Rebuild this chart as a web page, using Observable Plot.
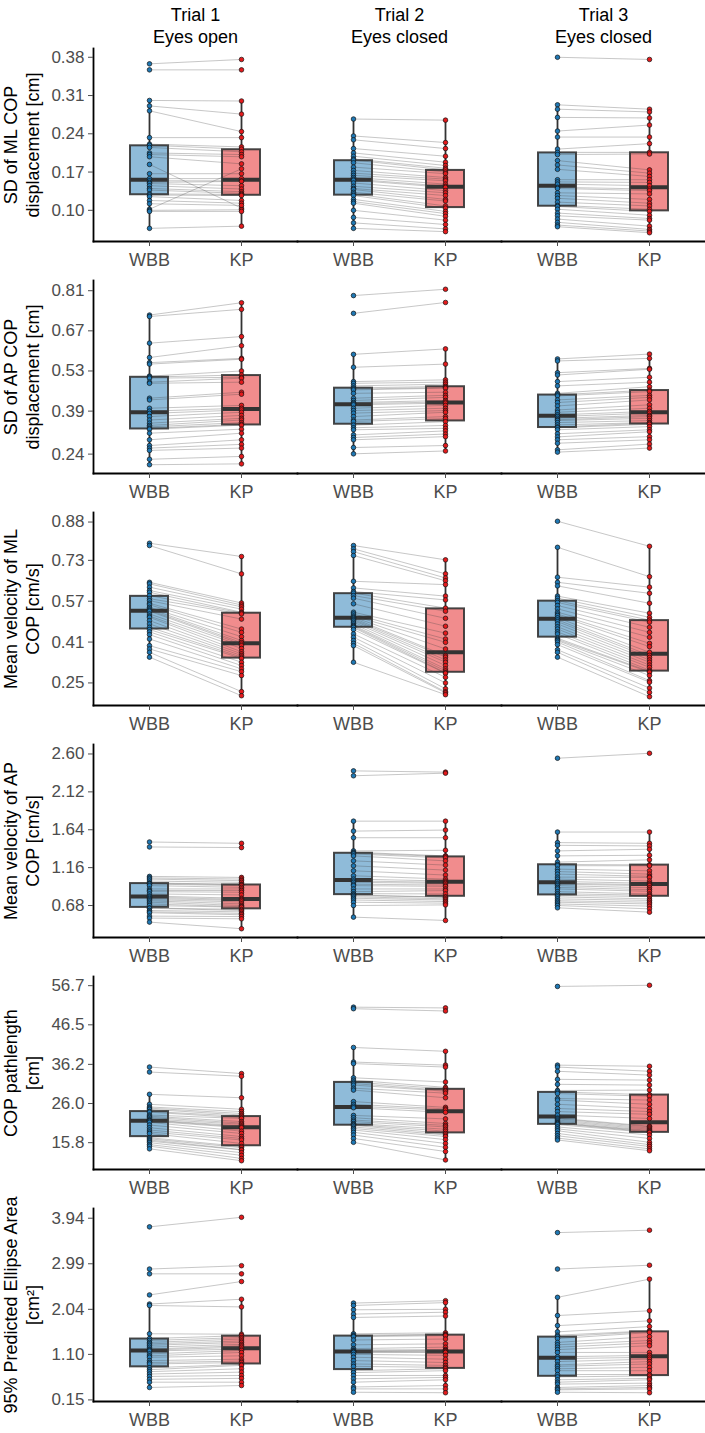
<!DOCTYPE html>
<html>
<head>
<meta charset="utf-8">
<script src="https://cdn.jsdelivr.net/npm/d3@7"></script>
<script src="https://cdn.jsdelivr.net/npm/@observablehq/plot@0.6"></script>
<style>
  body { margin: 0; background: #fff; }
  #chart { width: 705px; }
  #chart svg { display: block; }
</style>
</head>
<body>
<div id="chart"></div>
<script>
// Balance boards compared per trial: Wii Balance Board (WBB) vs. Kistler plate (KP).
const devices = ["WBB", "KP"];
const trials = ["Trial 1", "Trial 2", "Trial 3"];
const conditions = ["Eyes open", "Eyes closed", "Eyes closed"];
const deviceColors = ["#1F78B4", "#E31A1C"];

// Each list holds one value per participant; WBB and KP lists share the participant order.
// SD of ML COP displacement [cm]
const mlSdWBB = [
  [0.368,0.357,0.301,0.291,0.282,0.233,0.221,0.219,0.215,0.205,0.202,0.198,0.184,0.167,0.158,0.154,0.151,0.149,0.145,0.140,0.137,0.130,0.128,0.125,0.118,0.112,0.102,0.100,0.098,0.067],
  [0.267,0.236,0.229,0.213,0.205,0.199,0.194,0.192,0.187,0.179,0.173,0.168,0.164,0.160,0.157,0.155,0.150,0.144,0.140,0.138,0.133,0.130,0.127,0.120,0.116,0.113,0.100,0.087,0.077,0.067],
  [0.380,0.293,0.285,0.270,0.245,0.234,0.212,0.206,0.202,0.191,0.183,0.175,0.156,0.152,0.148,0.142,0.140,0.132,0.127,0.122,0.115,0.109,0.107,0.102,0.095,0.090,0.084,0.078,0.073,0.070]
];
const mlSdKP = [
  [0.376,0.357,0.300,0.276,0.244,0.233,0.216,0.212,0.207,0.202,0.198,0.185,0.104,0.167,0.158,0.154,0.153,0.145,0.139,0.134,0.131,0.129,0.127,0.118,0.113,0.109,0.176,0.101,0.098,0.071],
  [0.265,0.224,0.213,0.199,0.188,0.182,0.177,0.174,0.170,0.167,0.160,0.157,0.154,0.148,0.144,0.142,0.136,0.132,0.127,0.120,0.117,0.108,0.104,0.098,0.094,0.089,0.082,0.074,0.066,0.061],
  [0.376,0.285,0.280,0.269,0.256,0.234,0.222,0.206,0.203,0.174,0.168,0.162,0.156,0.151,0.145,0.139,0.136,0.130,0.120,0.113,0.108,0.102,0.098,0.091,0.085,0.082,0.071,0.065,0.062,0.059]
];
const mlSdTicks = [0.10, 0.17, 0.24, 0.31, 0.38];

// SD of AP COP displacement [cm]
const apSdWBB = [
  [0.725,0.720,0.627,0.577,0.559,0.554,0.512,0.509,0.505,0.491,0.487,0.435,0.429,0.400,0.390,0.382,0.371,0.359,0.348,0.340,0.335,0.330,0.327,0.313,0.290,0.270,0.261,0.253,0.222,0.203],
  [0.793,0.731,0.588,0.543,0.493,0.487,0.478,0.471,0.467,0.464,0.452,0.435,0.427,0.420,0.416,0.412,0.400,0.392,0.383,0.371,0.359,0.354,0.341,0.332,0.325,0.307,0.298,0.290,0.263,0.241],
  [0.572,0.565,0.524,0.516,0.493,0.478,0.452,0.447,0.443,0.429,0.420,0.408,0.394,0.386,0.377,0.371,0.365,0.360,0.357,0.350,0.342,0.335,0.332,0.325,0.311,0.300,0.290,0.278,0.255,0.247]
];
const apSdKP = [
  [0.768,0.745,0.650,0.618,0.574,0.571,0.530,0.516,0.508,0.505,0.491,0.456,0.449,0.410,0.400,0.394,0.386,0.375,0.365,0.359,0.350,0.344,0.341,0.327,0.313,0.290,0.274,0.261,0.232,0.206],
  [0.815,0.769,0.607,0.554,0.499,0.491,0.484,0.476,0.472,0.470,0.456,0.445,0.438,0.427,0.422,0.418,0.410,0.400,0.392,0.386,0.371,0.364,0.353,0.340,0.330,0.321,0.310,0.301,0.270,0.251],
  [0.589,0.574,0.539,0.536,0.508,0.491,0.475,0.463,0.458,0.445,0.438,0.429,0.412,0.400,0.389,0.383,0.375,0.371,0.365,0.357,0.350,0.348,0.344,0.336,0.325,0.318,0.301,0.290,0.275,0.261]
];
const apSdTicks = [0.24, 0.39, 0.53, 0.67, 0.81];

// Mean velocity of ML COP [cm/s]
const mlVelWBB = [
  [0.797,0.788,0.644,0.638,0.625,0.612,0.605,0.592,0.580,0.572,0.562,0.556,0.546,0.540,0.535,0.531,0.520,0.512,0.507,0.494,0.481,0.468,0.459,0.450,0.439,0.422,0.396,0.383,0.370,0.351],
  [0.788,0.775,0.764,0.749,0.648,0.622,0.608,0.602,0.592,0.582,0.560,0.527,0.520,0.512,0.507,0.503,0.498,0.494,0.488,0.481,0.475,0.471,0.467,0.459,0.442,0.429,0.416,0.405,0.396,0.331],
  [0.883,0.781,0.664,0.644,0.630,0.590,0.582,0.572,0.565,0.553,0.540,0.527,0.520,0.514,0.505,0.497,0.490,0.481,0.470,0.461,0.450,0.442,0.425,0.420,0.416,0.410,0.400,0.380,0.370,0.351]
];
const mlVelKP = [
  [0.745,0.677,0.563,0.555,0.548,0.539,0.527,0.524,0.520,0.500,0.461,0.448,0.431,0.416,0.408,0.402,0.396,0.385,0.372,0.364,0.357,0.351,0.346,0.331,0.318,0.305,0.294,0.279,0.216,0.200],
  [0.732,0.677,0.661,0.650,0.635,0.590,0.575,0.543,0.531,0.503,0.472,0.445,0.422,0.409,0.383,0.357,0.351,0.340,0.331,0.318,0.305,0.297,0.290,0.288,0.272,0.250,0.227,0.215,0.211,0.204],
  [0.785,0.666,0.625,0.601,0.562,0.523,0.507,0.496,0.488,0.468,0.448,0.429,0.405,0.392,0.370,0.358,0.350,0.340,0.331,0.320,0.311,0.300,0.295,0.292,0.279,0.259,0.253,0.230,0.213,0.196]
];
const mlVelTicks = [0.25, 0.41, 0.57, 0.73, 0.88];

// Mean velocity of AP COP [cm/s]
const apVelWBB = [
  [1.485,1.422,1.049,1.030,1.015,0.990,0.965,0.960,0.952,0.932,0.890,0.870,0.856,0.827,0.800,0.786,0.770,0.755,0.740,0.722,0.700,0.680,0.648,0.646,0.617,0.600,0.588,0.546,0.521,0.470],
  [2.386,2.324,1.749,1.623,1.539,1.372,1.355,1.345,1.333,1.309,1.246,1.183,1.120,1.057,1.015,0.991,0.974,0.950,0.932,0.890,0.856,0.830,0.814,0.806,0.790,0.772,0.750,0.722,0.680,0.533],
  [2.546,1.611,1.477,1.443,1.372,1.309,1.230,1.200,1.185,1.141,1.110,1.078,1.040,1.015,0.985,0.963,0.950,0.932,0.910,0.890,0.856,0.830,0.809,0.790,0.764,0.740,0.722,0.700,0.680,0.651]
];
const apVelKP = [
  [1.468,1.414,1.036,1.015,0.995,0.974,0.950,0.943,0.932,0.910,0.890,0.870,0.848,0.814,0.772,0.756,0.743,0.725,0.701,0.680,0.665,0.659,0.631,0.617,0.600,0.580,0.563,0.540,0.512,0.386],
  [2.370,2.357,1.749,1.636,1.539,1.380,1.309,1.300,1.284,1.246,1.192,1.129,1.066,1.015,0.990,0.974,0.961,0.940,0.923,0.890,0.869,0.827,0.787,0.785,0.765,0.750,0.730,0.710,0.688,0.491],
  [2.609,1.611,1.468,1.435,1.393,1.317,1.259,1.195,1.183,1.120,1.078,1.050,1.036,0.990,0.962,0.944,0.932,0.905,0.881,0.860,0.827,0.810,0.793,0.764,0.745,0.722,0.700,0.672,0.638,0.596]
];
const apVelTicks = [0.68, 1.16, 1.64, 2.12, 2.60];

// COP pathlength [cm]
const pathWBB = [
  [35.5,34.2,28.4,25.8,25.1,24.8,24.5,23.95,23.75,23.0,22.7,22.4,22.0,21.7,21.6,21.4,21.1,20.4,19.7,19.1,18.6,18.2,17.1,16.8,16.5,16.2,15.8,15.3,14.9,14.2],
  [51.1,50.7,40.6,36.8,36.4,32.7,32.1,31.6,31.2,30.8,30.0,29.5,26.5,25.8,25.3,24.9,22.9,22.3,21.7,21.3,20.8,20.5,20.3,19.9,19.5,19.1,18.5,17.8,16.9,15.9],
  [56.5,36.0,35.5,34.4,32.3,31.0,29.4,29.0,28.6,27.3,26.9,25.8,24.7,23.9,23.0,22.2,22.0,21.7,21.4,21.1,20.9,20.8,20.5,19.9,19.4,18.9,18.2,17.6,17.0,16.5]
];
const pathKP = [
  [33.8,33.1,27.5,24.5,23.9,23.4,23.0,22.7,22.3,22.1,21.3,20.9,20.6,20.2,19.9,19.7,18.8,18.2,17.4,16.9,16.5,15.6,14.8,14.5,14.0,13.9,13.2,12.5,11.7,11.1],
  [50.9,50.1,39.6,36.0,35.5,31.6,30.2,29.8,29.4,29.2,28.7,27.5,25.0,24.6,24.3,23.7,22.0,20.8,20.3,19.9,19.3,18.8,18.2,17.8,17.4,16.6,15.6,14.6,13.5,11.3],
  [56.8,35.7,34.4,33.4,32.1,30.8,29.5,28.3,27.9,26.9,25.8,24.7,23.9,23.2,22.1,20.1,19.9,19.6,19.3,19.0,18.8,18.6,18.45,17.8,16.9,15.9,15.3,14.8,14.2,13.7]
];
const pathTicks = [15.8, 26.0, 36.2, 46.5, 56.7];

// 95% predicted ellipse area [cm²]
const areaWBB = [
  [3.76,2.88,2.78,2.34,2.15,2.12,1.53,1.43,1.39,1.35,1.32,1.29,1.25,1.21,1.19,1.17,1.11,1.07,1.04,0.97,0.93,0.90,0.82,0.78,0.74,0.69,0.64,0.58,0.52,0.41],
  [2.17,2.12,2.03,1.94,1.87,1.53,1.50,1.485,1.47,1.40,1.30,1.22,1.19,1.17,1.165,1.155,1.14,1.10,1.04,0.97,0.90,0.85,0.76,0.72,0.66,0.59,0.52,0.42,0.38,0.31],
  [3.64,2.88,2.29,1.91,1.70,1.57,1.50,1.47,1.43,1.35,1.30,1.25,1.20,1.14,1.05,1.01,0.95,0.88,0.85,0.80,0.76,0.68,0.63,0.57,0.52,0.48,0.41,0.38,0.36,0.31]
];
const areaKP = [
  [3.96,2.95,2.78,2.62,2.25,2.09,1.52,1.49,1.45,1.42,1.38,1.35,1.31,1.28,1.25,1.21,1.18,1.14,1.07,1.00,0.96,0.93,0.89,0.87,0.80,0.73,0.66,0.60,0.52,0.45],
  [2.22,2.18,2.04,1.98,1.90,1.55,1.52,1.505,1.49,1.42,1.32,1.25,1.20,1.18,1.17,1.15,1.14,1.08,1.00,0.93,0.87,0.83,0.80,0.76,0.66,0.62,0.57,0.45,0.38,0.30],
  [3.69,2.96,2.67,2.01,1.80,1.68,1.59,1.575,1.555,1.47,1.39,1.34,1.28,1.14,1.08,1.04,1.00,0.95,0.90,0.83,0.76,0.68,0.65,0.60,0.57,0.50,0.45,0.41,0.38,0.30]
];
const areaTicks = [0.15, 1.10, 2.04, 2.99, 3.94];

const rowTitles = [
  "SD of ML COP\ndisplacement [cm]",
  "SD of AP COP\ndisplacement [cm]",
  "Mean velocity of ML\nCOP [cm/s]",
  "Mean velocity of AP\nCOP [cm/s]",
  "COP pathlength\n[cm]",
  "95% Predicted Ellipse Area\n[cm²]"
];

const rows = [
  {title: rowTitles[0], wbb: mlSdWBB, kp: mlSdKP, ticks: mlSdTicks, format: ".2f"},
  {title: rowTitles[1], wbb: apSdWBB, kp: apSdKP, ticks: apSdTicks, format: ".2f"},
  {title: rowTitles[2], wbb: mlVelWBB, kp: mlVelKP, ticks: mlVelTicks, format: ".2f"},
  {title: rowTitles[3], wbb: apVelWBB, kp: apVelKP, ticks: apVelTicks, format: ".2f"},
  {title: rowTitles[4], wbb: pathWBB, kp: pathKP, ticks: pathTicks, format: ".1f"},
  {title: rowTitles[5], wbb: areaWBB, kp: areaKP, ticks: areaTicks, format: ".2f"}
];

const FONT = "'Liberation Sans', Arial, Helvetica, sans-serif";
const TEXT_GREY = "#4D4D4D";
const LINE_DARK = "#333333";

// Tukey box statistics (type-7 quantiles, whiskers at 1.5 IQR)
function boxStats(values) {
  const s = values.slice().sort(d3.ascending);
  const q1 = d3.quantileSorted(s, 0.25);
  const median = d3.quantileSorted(s, 0.5);
  const q3 = d3.quantileSorted(s, 0.75);
  const iqr = q3 - q1;
  const lo = d3.min(s.filter(v => v >= q1 - 1.5 * iqr));
  const hi = d3.max(s.filter(v => v <= q3 + 1.5 * iqr));
  return {q1, median, q3, lo, hi};
}

function rowChart(row, index) {
  const first = index === 0;
  const points = [], pairs = [], stats = [];
  trials.forEach((trial, j) => {
    const w = row.wbb[j], k = row.kp[j];
    w.forEach((v, i) => {
      points.push({trial, device: "WBB", value: v});
      pairs.push({trial, wbb: v, kp: k[i]});
    });
    k.forEach(v => points.push({trial, device: "KP", value: v}));
    stats.push({trial, device: "WBB", ...boxStats(w)});
    stats.push({trial, device: "KP", ...boxStats(k)});
  });
  const [lo, hi] = d3.extent(points, d => d.value);
  const pad = (hi - lo) * 0.05;

  const marks = [
    Plot.ruleX(stats, {fx: "trial", x: "device", y1: "q3", y2: "hi", stroke: LINE_DARK, strokeWidth: 1.8}),
    Plot.ruleX(stats, {fx: "trial", x: "device", y1: "lo", y2: "q1", stroke: LINE_DARK, strokeWidth: 1.8}),
    Plot.barY(stats, {fx: "trial", x: "device", y1: "q1", y2: "q3", fill: "device", fillOpacity: 0.5,
                      stroke: LINE_DARK, strokeWidth: 2, strokeOpacity: 0.9}),
    Plot.tickY(stats, {fx: "trial", x: "device", y: "median", stroke: LINE_DARK, strokeWidth: 4}),
    Plot.link(pairs, {fx: "trial", x1: () => "WBB", x2: () => "KP", y1: "wbb", y2: "kp",
                      stroke: "#444", strokeOpacity: 0.5, strokeWidth: 0.6}),
    Plot.dot(points, {fx: "trial", x: "device", y: "value", fill: "device", stroke: "#111",
                      strokeWidth: 0.7, r: 2.3}),
    Plot.frame({anchor: "bottom", stroke: "black", strokeWidth: 1.8}),
    Plot.frame({anchor: "left", stroke: "black", strokeWidth: 1.8, facetAnchor: "left"}),
    Plot.axisY({ticks: row.ticks, tickFormat: d3.format(row.format), tickSize: 5, tickPadding: 4,
                color: TEXT_GREY, label: null, fontSize: 17}),
    Plot.axisX({tickSize: 5, tickPadding: 7, color: TEXT_GREY, label: null, fontSize: 18}),
    Plot.text([row.title], {fx: () => trials[0], text: d => d, frameAnchor: "left", rotate: -90,
                            textAnchor: "middle", lineAnchor: "middle", dx: -73, lineHeight: 1.22,
                            fontSize: 18, fill: "black"})
  ];
  if (first) {
    marks.push(
      Plot.text(trials, {fx: d => d, text: d => d, frameAnchor: "top", dy: -40, fontSize: 18, fill: "black"}),
      Plot.text(trials, {fx: d => d, text: (d, i) => conditions[i], frameAnchor: "top", dy: -18,
                         fontSize: 18, fill: "black"})
    );
  }

  return Plot.plot({
    width: 705,
    height: first ? 273 : 232,
    marginLeft: 93,
    marginRight: 0,
    marginTop: first ? 48 : 7,
    marginBottom: 32,
    style: {fontFamily: FONT, fontSize: "17px", background: "white", overflow: "visible"},
    fx: {domain: trials, padding: 0, axis: null, label: null},
    x: {type: "band", domain: devices, paddingInner: 0.585, paddingOuter: 0.395, label: null},
    y: {domain: [lo - pad, hi + pad], label: null},
    color: {domain: devices, range: deviceColors},
    marks
  });
}

const container = document.getElementById("chart");
rows.forEach((row, i) => container.appendChild(rowChart(row, i)));
</script>
</body>
</html>
